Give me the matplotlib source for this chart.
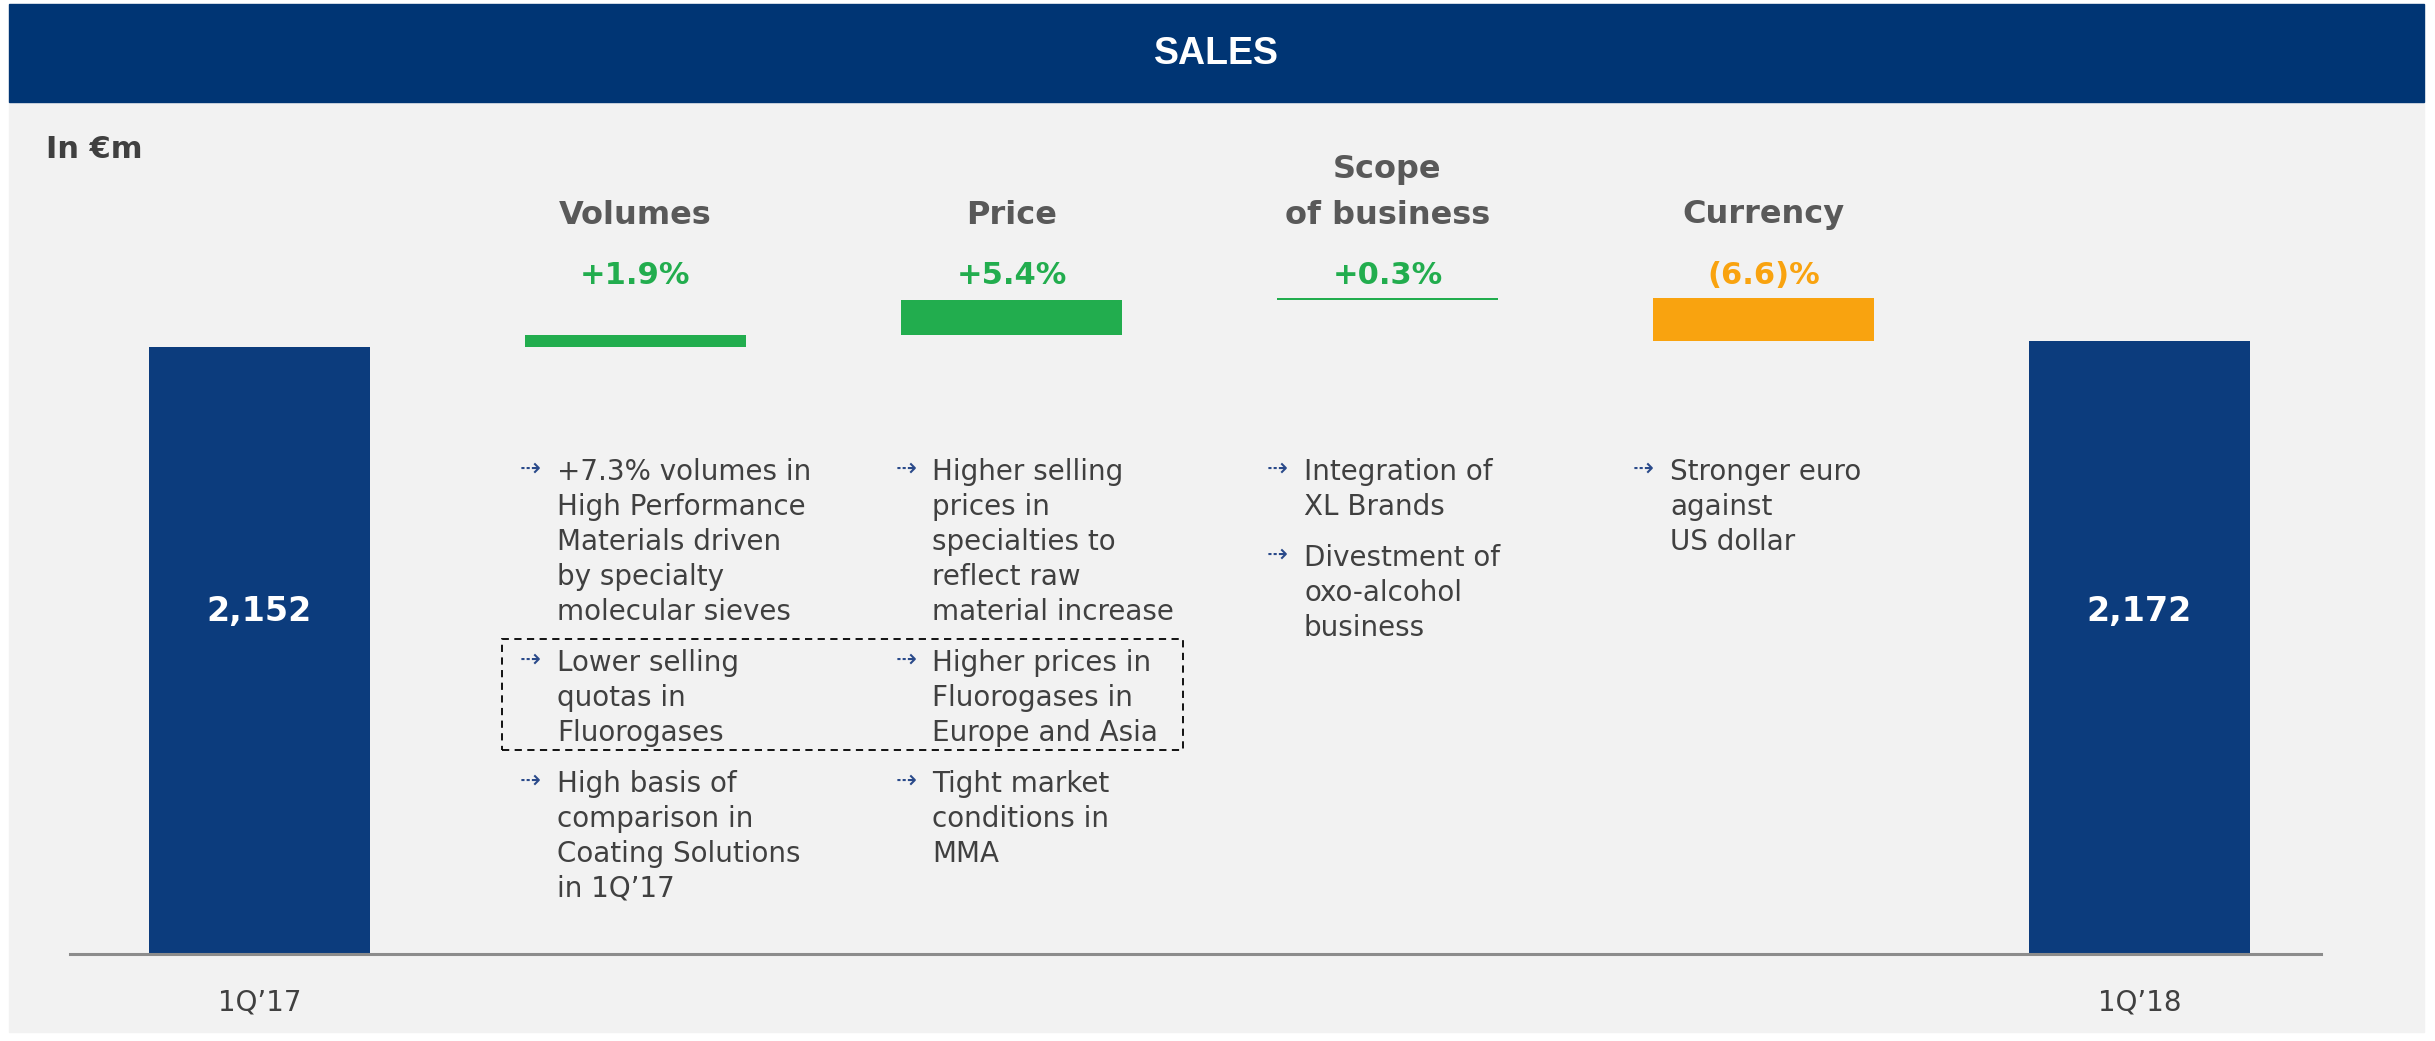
import matplotlib.pyplot as plt
from matplotlib.patches import Rectangle
from matplotlib import transforms

W, H, DPI = 2435, 1041, 100

# sales bridge, in EUR m
period_labels = ["1Q’17", "1Q’18"]
start_value = 2152
end_value = 2172
step_names = ["Volumes", "Price", "Scope\nof business", "Currency"]
step_values = [41, 116, 6, -143]
step_pct = ["+1.9%", "+5.4%", "+0.3%", "(6.6)%"]

volume_notes = ["+7.3% volumes in\nHigh Performance\nMaterials driven\nby specialty\nmolecular sieves",
                "Lower selling\nquotas in\nFluorogases",
                "High basis of\ncomparison in\nCoating Solutions\nin 1Q’17"]
price_notes = ["Higher selling\nprices in\nspecialties to\nreflect raw\nmaterial increase",
               "Higher prices in\nFluorogases in\nEurope and Asia",
               "Tight market\nconditions in\nMMA"]
scope_notes = ["Integration of\nXL Brands",
               "Divestment of\noxo-alcohol\nbusiness"]
currency_notes = ["Stronger euro\nagainst\nUS dollar"]

NAVY = "#003574"
BAR = "#0c3c7d"
GREEN = "#22ad4e"
ORANGE = "#f9a30f"
PANEL = "#f2f2f2"
GREY = "#595959"
TEXT = "#404040"
ARROW = "#2a4a8a"

plt.rcParams["font.family"] = ["DejaVu Sans"]

fig = plt.figure(figsize=(W / DPI, H / DPI), dpi=DPI)
fig.patch.set_facecolor("white")


def fx(px):
    return px / W


def fy(py):
    return 1 - py / H


def put_lines(x, y_center, text, size, pitch, transform, **kw):
    # y_center is the middle of the cap height of the first line, in pixels from the top
    base = y_center + 0.36 * size * DPI / 72
    for i, line in enumerate(text.split("\n")):
        fig.text(x, fy(base + i * pitch), line, fontsize=size, va="baseline",
                 transform=transform, **kw)


# grey panel and header band
fig.patches.append(Rectangle((fx(9), fy(1032)), fx(2424) - fx(9), (1032 - 102) / H,
                             transform=fig.transFigure, color=PANEL, zorder=-2))
fig.patches.append(Rectangle((fx(9), fy(102)), fx(2424) - fx(9), (102 - 4) / H,
                             transform=fig.transFigure, color=NAVY, zorder=-2))
fig.text(fx(1216), fy(54), "SALES", color="white", fontsize=27, fontweight="bold",
         family="Liberation Sans", ha="center", va="center")
fig.text(fx(46), fy(150), "In €m", color=TEXT, fontsize=22, fontweight="bold",
         ha="left", va="center")

ax = fig.add_axes([fx(70), fy(954), fx(2321) - fx(70), (954 - 102) / H])
ax.set_facecolor("none")

# waterfall
bottoms = [0]
heights = [start_value]
colors = [BAR]
running = start_value
for v in step_values:
    bottoms.append(min(running, running + v))
    heights.append(abs(v))
    colors.append(GREEN if v > 0 else ORANGE)
    running += v
bottoms.append(0)
heights.append(end_value)
colors.append(BAR)
xs = list(range(len(heights)))

ax.bar(xs, heights, bottom=bottoms, width=0.588, color=colors, zorder=2)
ax.set_xlim(-0.504, 5.483)
ax.set_ylim(130, 2970)
ax.axhline(130, color="#8c8c8c", lw=2.2, zorder=3, clip_on=False)
ax.axis("off")

tr = transforms.blended_transform_factory(ax.transData, fig.transFigure)

# totals
for x, v in [(xs[0], start_value), (xs[-1], end_value)]:
    put_lines(x, 609, f"{v:,}", 24, 0, tr, color="white", fontweight="bold", ha="center")
for x, lab in zip([xs[0], xs[-1]], period_labels):
    put_lines(x, 1000, lab, 20, 0, tr, color=TEXT, ha="center")

# step headers
for i, (name, pct, v) in enumerate(zip(step_names, step_pct, step_values)):
    lines = name.split("\n")
    first = 212 - 46 * (len(lines) - 1)
    put_lines(xs[i + 1], first, name, 23, 46, tr, color=GREY, fontweight="bold", ha="center")
    put_lines(xs[i + 1], 273, pct, 22, 0, tr, color=GREEN if v > 0 else ORANGE,
              fontweight="bold", ha="center")

# comment bullets
columns = [(volume_notes, 530, 557), (price_notes, 906, 932),
           (scope_notes, 1277, 1304), (currency_notes, 1643, 1670)]
pitch, gap = 35, 16
for notes, ax_px, tx_px in columns:
    y = 470
    for note in notes:
        put_lines(fx(ax_px), y - 3, "⇢", 18, 0, fig.transFigure, color=ARROW, ha="center")
        put_lines(fx(tx_px), y, note, 20, pitch, fig.transFigure, color=TEXT, ha="left")
        y += pitch * len(note.split("\n")) + gap

# dashed frame around the Fluorogases comments
fig.patches.append(Rectangle((fx(502), fy(750)), fx(1183) - fx(502), (750 - 639) / H,
                             transform=fig.transFigure, fill=False, edgecolor="black",
                             lw=1.3, ls=(0, (4, 3)), zorder=5))

fig.savefig("out.png", dpi=DPI, facecolor=fig.get_facecolor())
